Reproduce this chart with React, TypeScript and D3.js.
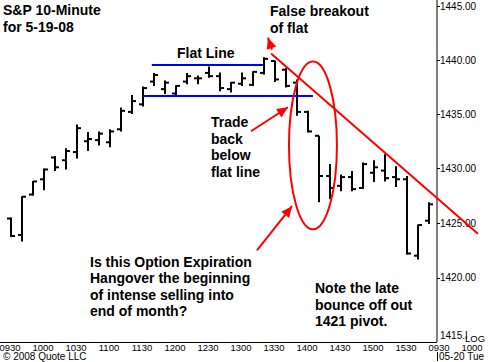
import * as d3 from "d3";

// 10-minute bars, S&P 5-19-08
const tickLabels = ["0930", "1000", "1030", "1100", "1130", "1200", "1230", "1300", "1330", "1400", "1430", "1500", "1530", "0930", "1000"];
const opens = [1425.4, 1423.9, 1427.6, 1429.0, 1431.0, 1430.75, 1431.5, 1432.5, 1432.6, 1432.4, 1433.6, 1435.2, 1435.9, 1438.0, 1437.3, 1436.9, 1438.0, 1438.3, 1438.8, 1438.5, 1437.3, 1437.8, 1437.7, 1438.8, 1439.9, 1439.1, 1437.9, 1435.2, 1433.0, 1429.3, 1428.4, 1429.2, 1428.2, 1429.6, 1429.8, 1429.2, 1429.0, 1422.0, 1425.2];
const highs = [1425.5, 1427.45, 1428.85, 1430.0, 1431.15, 1431.85, 1434.05, 1433.35, 1433.4, 1433.6, 1435.6, 1436.75, 1437.55, 1438.8, 1438.1, 1437.65, 1438.8, 1438.55, 1439.4, 1438.85, 1437.95, 1438.85, 1438.95, 1440.25, 1439.95, 1439.25, 1438.2, 1435.3, 1433.0, 1430.4, 1429.45, 1429.75, 1430.55, 1430.75, 1431.3, 1430.2, 1429.3, 1424.85, 1426.9];
const lows = [1423.7, 1423.3, 1427.5, 1428.0, 1429.75, 1429.9, 1430.9, 1431.6, 1432.1, 1431.95, 1433.4, 1435.0, 1435.7, 1437.6, 1436.85, 1436.7, 1437.75, 1437.75, 1438.35, 1437.1, 1437.0, 1437.6, 1437.6, 1438.65, 1437.95, 1437.45, 1434.85, 1433.3, 1426.9, 1427.2, 1427.9, 1427.9, 1428.1, 1428.75, 1428.8, 1428.3, 1422.1, 1421.65, 1424.9];
const closes = [1423.8, 1427.4, 1428.8, 1429.9, 1430.1, 1431.6, 1433.7, 1432.7, 1433.2, 1433.4, 1435.3, 1436.2, 1437.4, 1438.6, 1437.9, 1437.6, 1438.5, 1438.3, 1438.5, 1437.4, 1437.9, 1438.3, 1438.9, 1440.1, 1438.2, 1437.6, 1435.2, 1433.4, 1429.3, 1428.2, 1429.2, 1428.1, 1430.4, 1430.1, 1429.1, 1429.0, 1422.2, 1424.8, 1426.7];
const priceTicks = [1445, 1440, 1435, 1430, 1425, 1420];

// annotations in (bar index, price)
const flatLines = [
  { from: 12.8, to: 22.9, price: 1439.53 },
  { from: 12.0, to: 27.45, price: 1436.66 },
];
const trendLine = [
  [23.64, 1440.59],
  [42.45, 1424.0],
];
const ellipse = { center: 27.45, halfWidth: 2.18, top: 1439.85, bottom: 1424.41 };
const arrows = [
  [[23.73, 1440.96], [23.36, 1442.06]],
  [[21.82, 1433.42], [25.18, 1435.63]],
  [[22.36, 1422.48], [25.55, 1426.53]],
];

const notes = [
  { x: 3, y: 15, lines: ["S&P 10-Minute", "for 5-19-08"] },
  { x: 270, y: 16, lines: ["False breakout", "of flat"] },
  { x: 177, y: 58, lines: ["Flat Line"] },
  { x: 211, y: 127, lines: ["Trade", "back", "below", "flat line"] },
  { x: 90, y: 266.5, lines: ["Is this Option Expiration", "Hangover the beginning", "of intense selling into", "end of month?"] },
  { x: 315, y: 293, lines: ["Note the late", "bounce off out", "1421 pivot."] },
];

const W = 491;
const H = 362;
const AXIS_X = 437;
const AXIS_Y = 342;
const FONT = "'Liberation Sans', Arial, sans-serif";

function arrowHead(x1: number, y1: number, x2: number, y2: number) {
  const a = Math.atan2(y2 - y1, x2 - x1);
  const len = 11;
  const hw = 5;
  const bx = x2 - len * Math.cos(a);
  const by = y2 - len * Math.sin(a);
  const px = -Math.sin(a) * hw;
  const py = Math.cos(a) * hw;
  return `M${x2},${y2}L${bx + px},${by + py}L${bx - px},${by - py}Z`;
}

export default function App() {
  const x = d3.scaleLinear().domain([0, 38]).range([11, 429]);
  const y = d3.scaleLog().domain([1415, 1445]).range([332.5, 6]);

  const ecx = x(ellipse.center);
  const erx = x(ellipse.center + ellipse.halfWidth) - ecx;
  const eTop = y(ellipse.top);
  const eBot = y(ellipse.bottom);

  return (
    <svg
      width={W}
      height={H}
      viewBox={`0 0 ${W} ${H}`}
      style={{ position: "absolute", left: 0, top: 0, background: "#fff" }}
      fontFamily={FONT}
    >
      <rect width={W} height={H} fill="#fff" />

      {/* axes */}
      <line x1={AXIS_X} x2={AXIS_X} y1={0} y2={AXIS_Y} stroke="#000" strokeWidth={1} />
      <line x1={0} x2={AXIS_X} y1={AXIS_Y + 0.5} y2={AXIS_Y + 0.5} stroke="#000" strokeWidth={1} />
      {priceTicks.map((p) => (
        <g key={p}>
          <line x1={AXIS_X} x2={AXIS_X + 3} y1={Math.round(y(p)) + 0.5} y2={Math.round(y(p)) + 0.5} stroke="#000" />
          <text x={440} y={y(p)} dy="0.36em" fontSize={10} fill="#000">
            {p.toFixed(2)}
          </text>
        </g>
      ))}
      <text x={440} y={339} fontSize={10} fill="#000">1415.I</text>
      <text x={465} y={341.5} fontSize={9.5} fill="#000">LOG</text>

      {tickLabels.map((t, k) => (
        <text key={k} x={x(k * 3) - 1} y={350.5} fontSize={9.5} textAnchor="middle" fill="#000">
          {t}
        </text>
      ))}
      <text x={3} y={360} fontSize={10} fill="#000">© 2008 Quote LLC</text>
      <line x1={AXIS_X + 0.5} x2={AXIS_X + 0.5} y1={352} y2={361} stroke="#000" />
      <text x={439} y={360} fontSize={10} fill="#000">05-20 Tue</text>

      {/* OHLC bars */}
      <g stroke="#000" strokeWidth={2}>
        {highs.map((h, i) => {
          const cx = x(i);
          return (
            <g key={i}>
              <line x1={cx} x2={cx} y1={y(h)} y2={y(lows[i])} />
              <line x1={cx - 4} x2={cx} y1={y(opens[i])} y2={y(opens[i])} />
              <line x1={cx} x2={cx + 4} y1={y(closes[i])} y2={y(closes[i])} />
            </g>
          );
        })}
      </g>

      {/* flat lines */}
      {flatLines.map((f, k) => (
        <line key={k} x1={x(f.from)} x2={x(f.to)} y1={y(f.price)} y2={y(f.price)} stroke="#0000ff" strokeWidth={2} />
      ))}

      {/* red markup */}
      <line
        x1={x(trendLine[0][0])}
        y1={y(trendLine[0][1])}
        x2={x(trendLine[1][0])}
        y2={y(trendLine[1][1])}
        stroke="#ff0000"
        strokeWidth={2}
      />
      <ellipse cx={ecx} cy={(eTop + eBot) / 2} rx={erx} ry={(eBot - eTop) / 2} fill="none" stroke="#ff0000" strokeWidth={2} />
      {arrows.map(([a, b], k) => {
        const x1 = x(a[0]);
        const y1 = y(a[1]);
        const x2 = x(b[0]);
        const y2 = y(b[1]);
        return (
          <g key={k}>
            <line x1={x1} y1={y1} x2={x2} y2={y2} stroke="#ff0000" strokeWidth={2} />
            <path d={arrowHead(x1, y1, x2, y2)} fill="#ff0000" />
          </g>
        );
      })}

      {/* text notes */}
      {notes.map((n, k) => (
        <text key={k} x={n.x} y={n.y} fontSize={14} fontWeight={700} fill="#000">
          {n.lines.map((l, j) => (
            <tspan key={j} x={n.x} dy={j === 0 ? 0 : 16.5}>
              {l}
            </tspan>
          ))}
        </text>
      ))}
    </svg>
  );
}
